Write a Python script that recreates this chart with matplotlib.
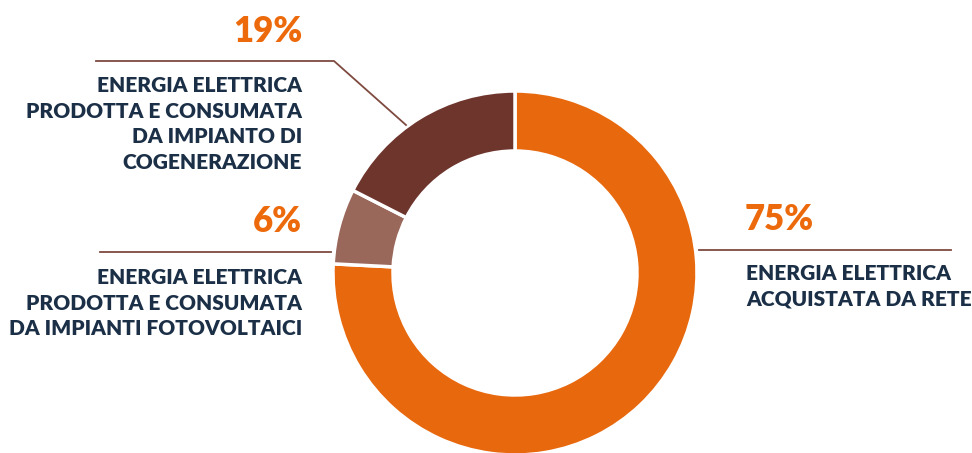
import matplotlib.pyplot as plt

# quote dell'energia elettrica (etichette e spicchi come nel grafico)
labels = ['ENERGIA ELETTRICA\nACQUISTATA DA RETE',
          'ENERGIA ELETTRICA\nPRODOTTA E CONSUMATA\nDA IMPIANTI FOTOVOLTAICI',
          'ENERGIA ELETTRICA\nPRODOTTA E CONSUMATA\nDA IMPIANTO DI\nCOGENERAZIONE']
values = [75.8, 6.7, 17.5]
pct_text = ['75%', '6%', '19%']
colors = ['#E8680E', '#9A675B', '#6E352D']

W, H = 972, 453
navy = '#1B2F47'
orange = '#EC6A0C'
line_col = '#7E4A40'

fig = plt.figure(figsize=(9.72, 4.53), dpi=100)
ax = fig.add_axes([0, 0, 1, 1])

# pixel coordinates, y measured from the top
def py(y):
    return H - y

ax.pie(values, colors=colors, startangle=90, counterclock=False,
       center=(515, py(273)), radius=182,
       wedgeprops=dict(width=60, edgecolor='white', linewidth=2.5))
ax.set_xlim(0, W)
ax.set_ylim(0, H)
ax.set_aspect('equal')
ax.axis('off')

font = dict(family=['Lato', 'DejaVu Sans'], fontweight='heavy')
fs = 15

# 75% - a destra
ax.plot([699, 951], [py(250), py(250)], color=line_col, lw=1.3)
ax.text(745, py(220), pct_text[0], color=orange, fontsize=25, ha='left', va='center', **font)
ax.text(746, py(286), labels[0], color=navy, fontsize=fs, ha='left', va='center',
        linespacing=1.4, **font)

# 6% - a sinistra in basso
ax.plot([100, 331], [py(252), py(252)], color=line_col, lw=1.3)
ax.text(302, py(222), pct_text[1], color=orange, fontsize=25, ha='right', va='center', **font)
ax.text(302, py(303), labels[1], color=navy, fontsize=fs, ha='right', va='center',
        linespacing=1.4, multialignment='right', **font)

# 19% - a sinistra in alto
ax.plot([96, 334, 406], [py(61), py(61), py(125)], color=line_col, lw=1.3)
ax.text(302, py(32), pct_text[2], color=orange, fontsize=25, ha='right', va='center', **font)
ax.text(302, py(124), labels[2], color=navy, fontsize=fs, ha='right', va='center',
        linespacing=1.4, multialignment='right', **font)

fig.savefig('out.png', dpi=100)
